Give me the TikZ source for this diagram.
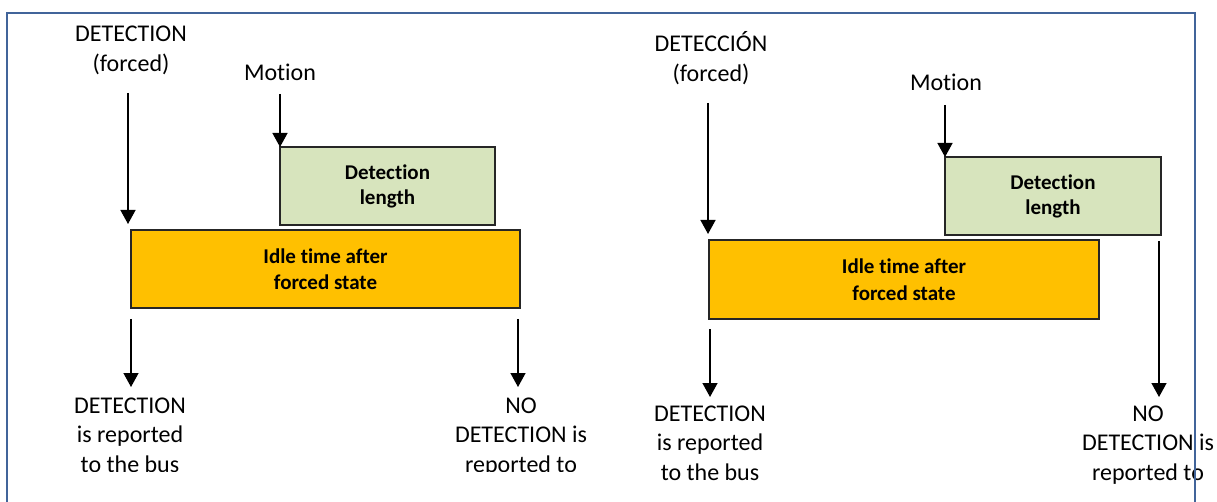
\documentclass[tikz,border=0pt]{standalone}
\usepackage{fontspec}
\setmainfont{Carlito}[Ligatures=NoCommon]
\usetikzlibrary{arrows.meta}
\definecolor{frameblue}{HTML}{41649A}
\definecolor{boxgreen}{HTML}{D7E4BD}
\definecolor{boxorange}{HTML}{FFC000}
\tikzset{
  lbl/.style={font=\fontsize{24}{29.5}\selectfont, align=center, inner sep=0pt, anchor=base},
  arr/.style={line width=1.4pt, -{Triangle[length=14pt,width=15pt]}},
  greenbox/.style={draw=black!85, line width=1.5pt, fill=boxgreen, inner sep=0pt,
    font=\bfseries\fontsize{21}{25}\selectfont, align=center},
  orangebox/.style={draw=black!85, line width=1.8pt, fill=boxorange, inner sep=0pt,
    font=\bfseries\fontsize{21}{26.5}\selectfont, align=center},
  framestyle/.style={draw=frameblue, line width=1.8pt}
}
\begin{document}
\begin{tikzpicture}[x=1pt,y=-1pt]
\useasboundingbox (0,0) rectangle (1217,502);
% ---------------- Left panel ----------------
\node[lbl] (dL) at (131,71.5) {DETECTION\\(forced)};
\node[lbl] (mL) at (280,81) {Motion};
\node[greenbox, minimum width=215pt, minimum height=78pt] (gL) at (387.5,186) {Detection\\length};
\node[orangebox, minimum width=389pt, minimum height=78pt] (oL) at (325.5,269) {Idle time after\\forced state};
\coordinate (aL1s) at (128,93);  \coordinate (aL1e) at (128,224);
\coordinate (aL2s) at (280,94);  \coordinate (aL2e) at (280,147);
\coordinate (aL3s) at (131,319); \coordinate (aL3e) at (131,387);
\coordinate (aL4s) at (518,319); \coordinate (aL4e) at (518,387);
\draw[arr] (aL1s) -- (aL1e);
\draw[arr] (aL2s) -- (aL2e);
\draw[arr] (aL3s) -- (aL3e);
\draw[arr] (aL4s) -- (aL4e);
\begin{scope}
\clip (0,0) rectangle (609,471.5);
\node[lbl] (rL) at (130,472) {DETECTION\\is reported\\to the bus};
\node[lbl] (nL) at (521,472) {NO\\DETECTION is\\reported to};
\end{scope}
% ---------------- Right panel ----------------
\node[lbl] (dR) at (711,81.5) {DETECCIÓN\\(forced)};
\node[lbl] (mR) at (946,91) {Motion};
\node[greenbox, minimum width=216pt, minimum height=78pt] (gR) at (1053,196) {Detection\\length};
\node[orangebox, minimum width=390pt, minimum height=79pt] (oR) at (904,279.5) {Idle time after\\forced state};
\coordinate (aR1s) at (708,103);  \coordinate (aR1e) at (708,234);
\coordinate (aR2s) at (945,105);  \coordinate (aR2e) at (945,157);
\coordinate (aR3s) at (710,329);  \coordinate (aR3e) at (710,397);
\coordinate (aR4s) at (1159,241); \coordinate (aR4e) at (1159,397);
\draw[arr] (aR1s) -- (aR1e);
\draw[arr] (aR2s) -- (aR2e);
\draw[arr] (aR3s) -- (aR3e);
\draw[arr] (aR4s) -- (aR4e);
\node[lbl] (rR) at (710,480) {DETECTION\\is reported\\to the bus};
\node[lbl] (nR) at (1148,480) {NO\\DETECTION is\\reported to};
% ---------------- Frame ----------------
\coordinate (fBL) at (7,502); \coordinate (fTL) at (7,13);
\coordinate (fTR) at (1195,13); \coordinate (fBR) at (1195,502);
\draw[framestyle] (fBL) -- (fTL) -- (fTR) -- (fBR);
\end{tikzpicture}
\end{document}
